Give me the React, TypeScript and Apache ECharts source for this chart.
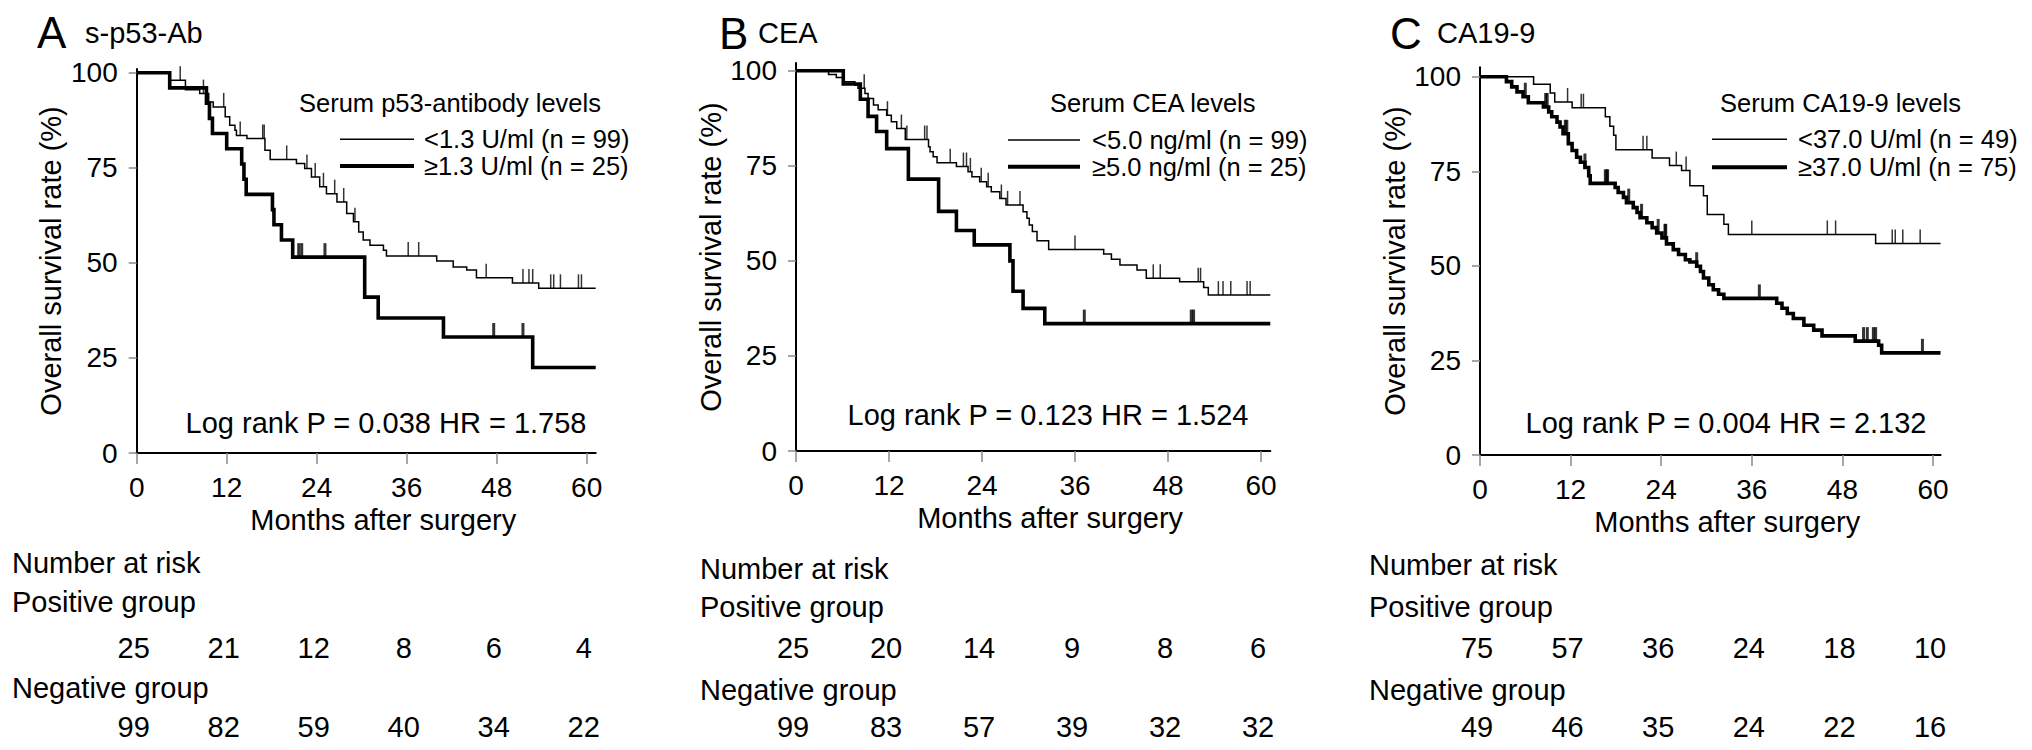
import React, { useEffect, useRef } from "react";
import * as echarts from "echarts";

const FONT = "'Liberation Sans', Arial, Helvetica, sans-serif";

const xTicks = [0, 12, 24, 36, 48, 60];
const yTicks = [0, 25, 50, 75, 100];

// ---------- Panel A: s-p53-Ab ----------
const aNegT = [0, 4.4, 6.5, 8.4, 9.6, 10.2, 11.8, 12.4, 13.1, 13.3, 14.7, 17.1, 17.8, 21.3, 22.4, 23.3, 24.4, 25.3, 26.7, 28.0, 28.9, 29.6, 30.2, 31.1, 32.9, 33.3, 40.0, 42.2, 44.0, 45.3, 50.1, 53.6, 61.2];
const aNegS = [100, 98, 95.5, 94.5, 92.3, 91, 88.4, 86.2, 84.9, 83.5, 82.7, 79.6, 77.2, 76.1, 74.8, 72.6, 70, 68.2, 66, 63, 60.8, 58.1, 56, 54.6, 53.3, 51.8, 50.5, 48.9, 48.1, 46.1, 44.7, 43.3, 43.3];
const aNegC = [5.8, 8.9, 11.6, 13.8, 16.8, 17.0, 20.0, 22.7, 23.8, 24.9, 26.4, 27.6, 29.1, 36.2, 37.6, 46.6, 51.5, 52.3, 52.8, 55.2, 55.6, 56.5, 58.9, 59.3];
const aPosT = [0, 4.4, 9.3, 9.7, 10.1, 12.0, 14.0, 14.3, 14.6, 18.1, 18.3, 19.3, 20.8, 30.4, 32.2, 40.9, 52.8, 61.2];
const aPosS = [100, 96, 92, 88, 84, 80, 76, 72, 68, 64, 60, 56, 51.5, 41, 35.5, 30.5, 22.5, 22.5];
const aPosC = [21.6, 22.0, 25.1, 47.6, 51.5];
const aRiskPos = [25, 21, 12, 8, 6, 4];
const aRiskNeg = [99, 82, 59, 40, 34, 22];

// ---------- Panel B: CEA ----------
const bNegT = [0, 4.2, 5.2, 6.1, 7.6, 8.0, 8.9, 9.3, 10.0, 10.6, 11.7, 12.3, 13.0, 14.1, 17.1, 17.3, 17.7, 18.2, 20.7, 22.2, 22.7, 23.7, 24.6, 25.2, 26.3, 27.1, 29.3, 29.8, 30.1, 30.5, 31.1, 32.6, 39.7, 40.7, 41.8, 44.0, 45.2, 49.5, 52.6, 53.2, 61.2];
const bNegS = [100, 99, 98.2, 97.1, 96.2, 95.4, 94, 92.7, 91, 89.7, 88.3, 86.6, 84.8, 81.9, 80, 78.7, 77.4, 75.8, 74.8, 73.4, 72.1, 70.8, 69.5, 68.2, 66.4, 64.7, 62.9, 61.2, 59.4, 57.7, 55.3, 53, 51.8, 50.4, 48.9, 47.6, 45.4, 44.5, 43, 41, 41];
const bNegC = [8.8, 11.8, 13.6, 14.3, 16.6, 16.9, 19.9, 21.6, 22.0, 22.5, 23.9, 24.8, 26.5, 27.3, 28.9, 36.0, 46.1, 47.0, 51.9, 52.2, 54.5, 55.1, 56.1, 58.2, 58.6];
const bPosT = [0, 6.1, 8.3, 9.3, 10.4, 11.7, 14.5, 18.4, 20.7, 23.0, 27.6, 28.0, 29.3, 32.1, 61.2];
const bPosS = [100, 96.5, 92.5, 88, 84, 79.5, 71.5, 63, 58, 54.2, 50, 42, 37.5, 33.5, 33.5];
const bPosC = [37.2, 51.0, 51.3];
const bRiskPos = [25, 20, 14, 9, 8, 6];
const bRiskNeg = [99, 83, 57, 39, 32, 32];

// ---------- Panel C: CA19-9 ----------
const cNegT = [0, 7.1, 9.3, 9.9, 12.2, 16.6, 17.2, 17.7, 18.0, 22.8, 25.1, 26.7, 27.8, 29.6, 30.1, 32.3, 32.9, 52.4, 61.0];
const cNegS = [100, 98, 95.7, 93.3, 91.8, 89.4, 86.9, 84.5, 80.7, 78.5, 76.5, 75.2, 71.2, 68.5, 63.6, 61, 58.3, 55.9, 55.9];
const cNegC = [11.6, 13.4, 13.7, 21.6, 22.1, 26.0, 27.3, 36.0, 46.0, 47.1, 54.6, 55.0, 56.0, 58.3];
const cPosT = [0, 3.5, 4.2, 4.9, 5.7, 6.4, 8.4, 9.1, 9.5, 10.2, 10.6, 11.0, 11.7, 12.2, 12.8, 13.3, 13.9, 14.4, 14.6, 17.9, 18.3, 19.0, 19.4, 20.3, 20.8, 21.2, 22.1, 22.8, 23.4, 24.1, 24.7, 25.6, 26.3, 27.2, 27.8, 28.7, 29.2, 29.6, 30.3, 30.9, 31.6, 32.3, 39.3, 40.0, 40.7, 41.5, 42.9, 44.2, 45.3, 49.7, 52.8, 53.2, 61.0];
const cPosS = [100, 98.7, 97.3, 96, 94.7, 93.1, 92, 90.7, 89.4, 88, 86.7, 84.9, 82.3, 80.5, 78.7, 77.4, 76, 73.8, 71.8, 70.7, 69.4, 68.1, 66.7, 65.4, 64.1, 62.7, 61.4, 60.1, 58.7, 57.4, 55.8, 54.3, 53, 51.6, 51, 49.9, 48.5, 46.8, 45, 43.7, 42.5, 41.4, 40.1, 38.8, 37.4, 36.1, 34.3, 33, 31.5, 30.1, 29, 27, 27];
const cPosC = [6.0, 8.7, 8.9, 11.3, 11.5, 13.9, 16.6, 16.8, 16.9, 19.7, 21.4, 23.6, 24.5, 24.6, 28.7, 37.0, 50.8, 51.3, 52.1, 52.4, 58.6];
const cRiskPos = [75, 57, 36, 24, 18, 10];
const cRiskNeg = [49, 46, 35, 24, 22, 16];

const letters = ["A", "B", "C"];
const subtitles = ["s-p53-Ab", "CEA", "CA19-9"];
const legendTitles = ["Serum p53-antibody levels", "Serum CEA levels", "Serum CA19-9 levels"];
const negLabels = ["<1.3 U/ml (n = 99)", "<5.0 ng/ml (n = 99)", "<37.0 U/ml (n = 49)"];
const posLabels = ["\u22651.3 U/ml (n = 25)", "\u22655.0 ng/ml (n = 25)", "\u226537.0 U/ml (n = 75)"];
const logRanks = ["Log rank P = 0.038 HR = 1.758", "Log rank P = 0.123 HR = 1.524", "Log rank P = 0.004 HR = 2.132"];

const panelData = [
  { negT: aNegT, negS: aNegS, negC: aNegC, posT: aPosT, posS: aPosS, posC: aPosC, riskPos: aRiskPos, riskNeg: aRiskNeg },
  { negT: bNegT, negS: bNegS, negC: bNegC, posT: bPosT, posS: bPosS, posC: bPosC, riskPos: bRiskPos, riskNeg: bRiskNeg },
  { negT: cNegT, negS: cNegS, negC: cNegC, posT: cPosT, posS: cPosS, posC: cPosC, riskPos: cRiskPos, riskNeg: cRiskNeg },
];

// layout (pixels)
const layouts = [
  { left: 136.7, monthPx: 7.5, y0: 453, unitPx: 3.803, ymax: 101, xmax: 61.2,
    letter: [37, 32], sub: [85, 33], legTitle: [299, 103], legX: [340, 414], legY: [139.3, 166], legText: 424,
    logRank: [386, 423], risk: [12, 563, 602, 688] },
  { left: 796, monthPx: 7.75, y0: 451, unitPx: 3.803, ymax: 102, xmax: 61.2,
    letter: [719, 33], sub: [758, 33], legTitle: [1050, 103], legX: [1008, 1080], legY: [140, 166.7], legText: 1092,
    logRank: [1048, 415], risk: [700, 569, 607, 690] },
  { left: 1480, monthPx: 7.55, y0: 455, unitPx: 3.783, ymax: 102.5, xmax: 61,
    letter: [1390, 33], sub: [1437, 33], legTitle: [1720, 103], legX: [1712, 1787], legY: [139.3, 167.3], legText: 1798,
    logRank: [1726, 423], risk: [1369, 565, 607, 690] },
];

function levelAt(ts: number[], ss: number[], t: number) {
  let v = ss[0];
  for (let i = 0; i < ts.length; i++) if (ts[i] <= t) v = ss[i];
  return v;
}

function txt(x: number, y: number, text: string, size: number, align = "left") {
  return {
    type: "text",
    x, y, silent: true,
    style: {
      text, fill: "#000", fontSize: size, fontFamily: FONT,
      align, textAlign: align, verticalAlign: "middle", textVerticalAlign: "middle",
    },
  };
}

function buildOption() {
  const grid: any[] = [];
  const xAxis: any[] = [];
  const yAxis: any[] = [];
  const series: any[] = [];
  const graphic: any[] = [];

  layouts.forEach((L, p) => {
    const D = panelData[p];
    const top = L.y0 - L.ymax * L.unitPx;
    const width = L.xmax * L.monthPx;
    const height = L.ymax * L.unitPx;
    const gi = p * 2;
    grid.push({ left: L.left, top, width, height, containLabel: false });
    grid.push({ left: L.left, top: 648, width, height: 79, containLabel: false });

    xAxis.push({
      type: "value", gridIndex: gi, min: 0, max: L.xmax,
      axisLine: { show: true, lineStyle: { color: "#000", width: 2 } },
      axisTick: { show: true, customValues: xTicks, length: 11, lineStyle: { color: "#8a8a8a", width: 1.5 } },
      axisLabel: { customValues: xTicks, fontSize: 28, color: "#000", fontFamily: FONT, margin: 20 },
      splitLine: { show: false },
      name: "Months after surgery", nameLocation: "middle", nameGap: 52,
      nameTextStyle: { fontSize: 29, color: "#000", fontFamily: FONT, padding: [0, 0, 0, 34] },
    });
    yAxis.push({
      type: "value", gridIndex: gi, min: 0, max: L.ymax,
      axisLine: { show: true, lineStyle: { color: "#000", width: 2 } },
      axisTick: { show: true, customValues: yTicks, length: 8, lineStyle: { color: "#8a8a8a", width: 1.5 } },
      axisLabel: { customValues: yTicks, fontSize: 28, color: "#000", fontFamily: FONT, margin: 19 },
      splitLine: { show: false },
      name: "Overall survival rate (%)", nameLocation: "middle", nameGap: 71,
      nameTextStyle: { fontSize: 29, color: "#000", fontFamily: FONT },
    });
    xAxis.push({ type: "value", gridIndex: gi + 1, min: 0, max: L.xmax, show: false });
    yAxis.push({ type: "value", gridIndex: gi + 1, min: 0, max: 1, show: false });

    const stepLine = (name: string, ts: number[], ss: number[], w: number) => ({
      name, type: "line", step: "end", xAxisIndex: gi, yAxisIndex: gi, symbol: "none", silent: true,
      lineStyle: { color: "#000", width: w, join: "miter", cap: "butt" },
      data: ts.map((t, i) => [t, ss[i]]), z: 3,
    });
    const censor = (ts: number[], ss: number[], cs: number[], w: number) => ({
      type: "scatter", xAxisIndex: gi, yAxisIndex: gi, silent: true,
      symbol: "rect", symbolSize: [w, 14], symbolOffset: [0, -7],
      itemStyle: { color: "#000" },
      data: cs.map((t) => [t, levelAt(ts, ss, t)]), z: 4,
    });
    series.push(stepLine(negLabels[p], D.negT, D.negS, 1.5));
    series.push(stepLine(posLabels[p], D.posT, D.posS, 3.6));
    series.push(censor(D.negT, D.negS, D.negC, 1.5));
    series.push(censor(D.posT, D.posS, D.posC, 3));

    const riskRow = (vals: number[], yv: number) => ({
      type: "custom", xAxisIndex: gi + 1, yAxisIndex: gi + 1, silent: true,
      renderItem: (params: any, api: any) => {
        const pt = api.coord([api.value(0), api.value(1)]);
        return {
          type: "text", x: pt[0] - 3, y: pt[1],
          style: {
            text: String(api.value(2)), fill: "#000", fontSize: 29, fontFamily: FONT,
            align: "center", verticalAlign: "middle",
          },
        };
      },
      data: xTicks.map((t, i) => [t, yv, vals[i]]),
    });
    series.push(riskRow(D.riskPos, 1));
    series.push(riskRow(D.riskNeg, 0));

    graphic.push(txt(L.letter[0], L.letter[1], letters[p], 44));
    graphic.push(txt(L.sub[0], L.sub[1], subtitles[p], 29));
    graphic.push(txt(L.legTitle[0], L.legTitle[1], legendTitles[p], 25.5));
    graphic.push({ type: "line", silent: true, shape: { x1: L.legX[0], y1: L.legY[0], x2: L.legX[1], y2: L.legY[0] }, style: { stroke: "#000", lineWidth: 1.5 } });
    graphic.push({ type: "line", silent: true, shape: { x1: L.legX[0], y1: L.legY[1], x2: L.legX[1], y2: L.legY[1] }, style: { stroke: "#000", lineWidth: 4 } });
    graphic.push(txt(L.legText, L.legY[0], negLabels[p], 25.5));
    graphic.push(txt(L.legText, L.legY[1], posLabels[p], 25.5));
    graphic.push(txt(L.logRank[0], L.logRank[1], logRanks[p], 29, "center"));
    graphic.push(txt(L.risk[0], L.risk[1], "Number at risk", 29));
    graphic.push(txt(L.risk[0], L.risk[2], "Positive group", 29));
    graphic.push(txt(L.risk[0], L.risk[3], "Negative group", 29));
  });

  return {
    animation: false,
    backgroundColor: "#fff",
    textStyle: { fontFamily: FONT },
    grid, xAxis, yAxis, series, graphic,
  };
}

export default function App() {
  const ref = useRef<HTMLDivElement>(null);
  useEffect(() => {
    document.body.style.margin = "0";
    document.body.style.overflow = "hidden";
    const chart = echarts.init(ref.current as HTMLDivElement, undefined, { renderer: "svg" });
    chart.setOption(buildOption() as any);
    return () => chart.dispose();
  }, []);
  return <div ref={ref} style={{ width: 2032, height: 750, background: "#fff" }} />;
}
